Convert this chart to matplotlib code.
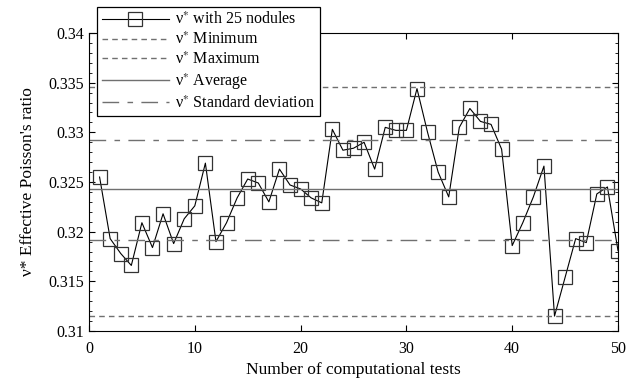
import matplotlib
matplotlib.use("Agg")
import matplotlib.pyplot as plt
from matplotlib.ticker import MultipleLocator

plt.rcParams['font.family'] = ['Liberation Serif', 'DejaVu Serif']
plt.rcParams['mathtext.fontset'] = 'stix'

tests = list(range(1, 51))
nu = [0.3255, 0.3193, 0.3178, 0.3166, 0.3209, 0.3184, 0.3218, 0.3188, 0.3213, 0.3226,
      0.3269, 0.3190, 0.3209, 0.3234, 0.3253, 0.3249, 0.3230, 0.3263, 0.3247, 0.3243,
      0.3234, 0.3229, 0.3303, 0.3282, 0.3284, 0.3290, 0.3263, 0.3305, 0.3302, 0.3302,
      0.3344, 0.3300, 0.3260, 0.3235, 0.3305, 0.3324, 0.3311, 0.3308, 0.3283, 0.3186,
      0.3209, 0.3235, 0.3266, 0.3115, 0.3154, 0.3193, 0.3189, 0.3238, 0.3245, 0.3181]
nu_min = 0.3115
nu_max = 0.3346
nu_avg = 0.3243
nu_std_hi = 0.3292
nu_std_lo = 0.3192

fig = plt.figure(figsize=(6.35, 3.89), dpi=100)
ax = fig.add_axes([89/635, 1 - 331/389, (618-89)/635, (331-33)/389])

gray = '#707070'
ax.plot(tests, nu, color='black', lw=0.8, marker='s', markersize=10.5,
        markerfacecolor='none', markeredgecolor='#333333', markeredgewidth=0.9,
        label='\u03bd$^{*}$ with 25 nodules')
ax.axhline(nu_min, color=gray, lw=1.0, ls=(0, (4, 3)), label='\u03bd$^{*}$ Minimum')
ax.axhline(nu_max, color=gray, lw=1.0, ls=(0, (4, 3)), label='\u03bd$^{*}$ Maximum')
ax.axhline(nu_avg, color=gray, lw=1.0, ls='-', label='\u03bd$^{*}$ Average')
ax.axhline(nu_std_hi, color=gray, lw=1.0, ls=(0, (12, 6, 4, 6)), label='\u03bd$^{*}$ Standard deviation')
ax.axhline(nu_std_lo, color=gray, lw=1.0, ls=(0, (12, 6, 4, 6)))

ax.set_xlim(0, 50)
ax.set_ylim(0.31, 0.34)
ax.xaxis.set_major_locator(MultipleLocator(10))
ax.yaxis.set_minor_locator(MultipleLocator(0.001))
ax.set_yticks([0.31, 0.315, 0.32, 0.325, 0.33, 0.335, 0.34])
ax.set_yticklabels(['0.31', '0.315', '0.32', '0.325', '0.33', '0.335', '0.34'])
ax.tick_params(which='both', direction='in', top=True, right=True, labelsize=11.5)
ax.tick_params(which='major', length=4)
ax.tick_params(which='minor', length=2.5)
ax.tick_params(axis='x', pad=7)

ax.set_xlabel('Number of computational tests', fontsize=12.5)
ax.set_ylabel("\u03bd* Effective Poisson's ratio", fontsize=12.5, labelpad=9)

leg = ax.legend(loc='upper left', bbox_to_anchor=(97/635, 1 - 7/389),
                bbox_transform=fig.transFigure, fontsize=11.5, frameon=True,
                fancybox=False, edgecolor='black', framealpha=1, borderaxespad=0,
                borderpad=0.3, labelspacing=0.2, handlelength=4.2, handletextpad=0.4)
leg.get_frame().set_linewidth(0.9)

fig.savefig('out.png', dpi=100)
